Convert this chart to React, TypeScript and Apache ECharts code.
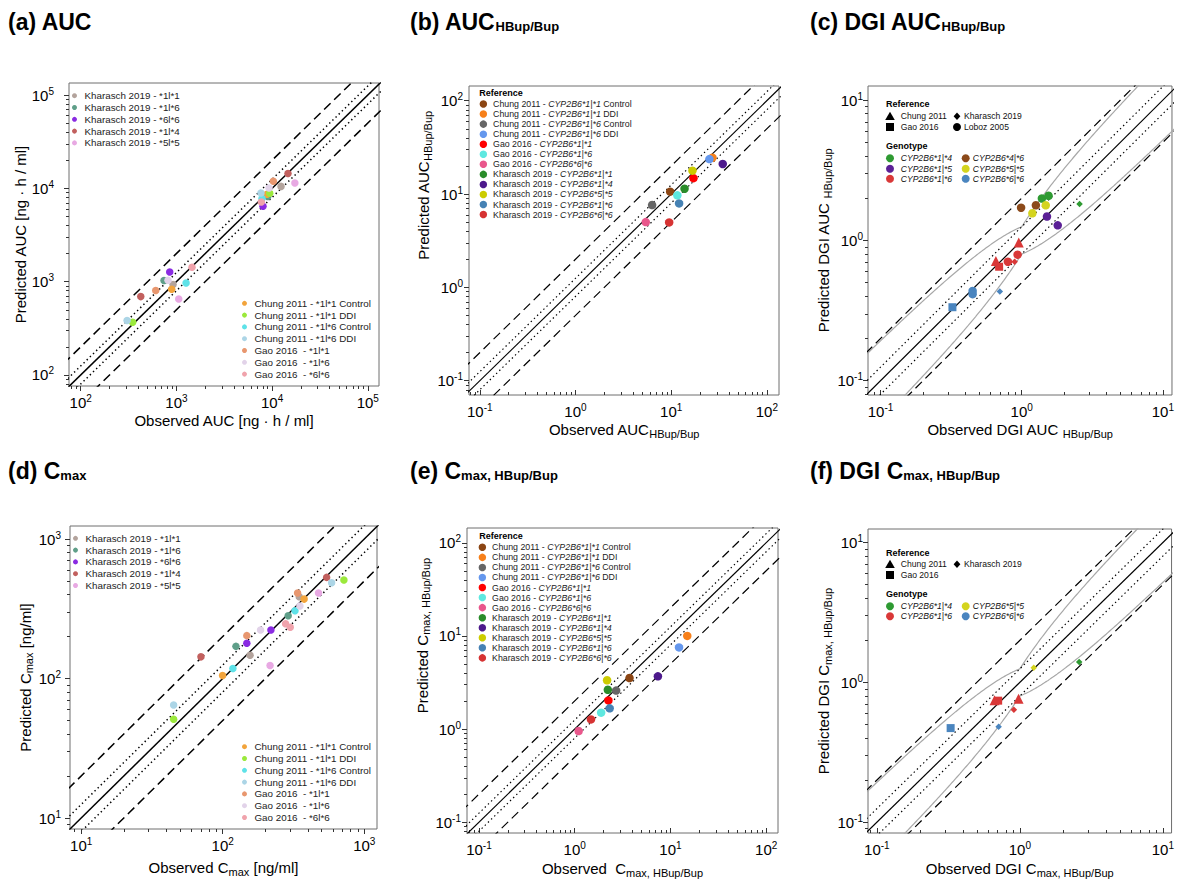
import React, { useEffect, useRef } from 'react';
import * as echarts from 'echarts';

const FONT = "'Liberation Sans', Arial, Helvetica, sans-serif";

// ---------- (a), (d): absolute PK values, one series per study arm ----------
const pkNames = [
  'Kharasch 2019 - *1l*1',
  'Kharasch 2019 - *1l*6',
  'Kharasch 2019 - *6l*6',
  'Kharasch 2019 - *1l*4',
  'Kharasch 2019 - *5l*5',
  'Chung 2011 - *1l*1 Control',
  'Chung 2011 - *1l*1 DDI',
  'Chung 2011 - *1l*6 Control',
  'Chung 2011 - *1l*6 DDI',
  'Gao 2016  - *1l*1',
  'Gao 2016  - *1l*6',
  'Gao 2016  - *6l*6',
];
const pkColors = ['#b3a39c', '#5f9f89', '#8a2be2', '#c2605e', '#e8a9e3', '#f2a43c', '#9be93c', '#5ee2e8', '#acd5e6', '#e8976f', '#e2d3e9', '#f0a3ac'];
const aucObserved = [[922, 12400], [742, 9000], [851, 8030], [424, 14660], [1057, 17300], [893, 8850], [349, 9440], [1262, 7840], [305, 7650], [608, 10300], [817, 9290], [1456, 7720]];
const aucPredicted = [[931, 10500], [1028, 8170], [1270, 6430], [692, 14400], [653, 11400], [830, 8650], [367, 8850], [968, 7780], [383, 8930], [803, 11900], [1035, 10100], [1427, 7150]];
const cmaxObserved = [[156, 347], [124, 290], [148, 219], [70.2, 542], [216, 475], [99.8, 376], [45, 718], [118, 324], [45, 588], [148, 338], [185, 351], [278, 300]];
const cmaxPredicted = [[147, 386], [170, 282], [179, 223], [143, 531], [124, 410], [105, 371], [51, 508], [118, 306], [64.6, 486], [203, 410], [223, 331], [247, 233]];

// ---------- (b), (e): HBup/Bup ratios ----------
const ratioRefs = ['Chung 2011', 'Chung 2011', 'Chung 2011', 'Chung 2011', 'Gao 2016', 'Gao 2016', 'Gao 2016', 'Kharasch 2019', 'Kharasch 2019', 'Kharasch 2019', 'Kharasch 2019', 'Kharasch 2019'];
const ratioGenotypes = ['CYP2B6*1|*1', 'CYP2B6*1|*1', 'CYP2B6*1|*6', 'CYP2B6*1|*6', 'CYP2B6*1|*1', 'CYP2B6*1|*6', 'CYP2B6*6|*6', 'CYP2B6*1|*1', 'CYP2B6*1|*4', 'CYP2B6*5|*5', 'CYP2B6*1|*6', 'CYP2B6*6|*6'];
const ratioSuffix = [' Control', ' DDI', ' Control', ' DDI', '', '', '', '', '', '', '', ''];
const ratioColors = ['#8b4513', '#f7801a', '#666666', '#6497ed', '#ff0000', '#5ee8e0', '#e9578c', '#2a8c2a', '#4d1a8c', '#cccc00', '#4682b4', '#d63333'];
const aucRatioObs = [9.76, 27.0, 6.32, 25.1, 17.1, 11.6, 5.43, 13.8, 34.6, 16.7, 12.1, 9.53];
const aucRatioPred = [10.6, 24.5, 7.63, 23.7, 14.8, 9.68, 5.01, 11.4, 21.0, 17.8, 7.94, 4.97];
const cmaxRatioObs = [3.74, 15.0, 2.71, 12.3, 2.25, 1.89, 1.10, 2.22, 7.40, 2.18, 2.32, 1.48];
const cmaxRatioPred = [3.53, 10.0, 2.59, 7.53, 2.03, 1.50, 0.953, 2.64, 3.68, 3.34, 1.67, 1.27];

// ---------- (c), (f): DGI ratios ----------
const dgiRefs = ['Chung 2011', 'Gao 2016', 'Kharasch 2019', 'Loboz 2005'];
const dgiRefSymbols = ['triangle', 'rect', 'diamond', 'circle'];
const dgiRefSizes = [10, 8, 6.5, 8.5];
const dgiGenotypes = ['CYP2B6*1|*4', 'CYP2B6*1|*5', 'CYP2B6*1|*6', 'CYP2B6*4|*6', 'CYP2B6*5|*5', 'CYP2B6*6|*6'];
const dgiGenoColors = ['#2e9a32', '#5b2096', '#d93838', '#8c4a1a', '#d4d41e', '#4a85bf'];

const dgiAucRef = [3, 3, 3, 3, 3, 3, 3, 3, 3, 3, 3, 3, 0, 0, 1, 1, 2, 2, 2];
const dgiAucGeno = [0, 0, 3, 3, 4, 4, 1, 1, 2, 2, 5, 5, 2, 2, 2, 5, 0, 2, 5];
const dgiAucObs = [1.39, 1.55, 0.99, 1.26, 1.48, 1.19, 1.51, 1.80, 0.798, 0.935, 0.449, 0.449, 0.953, 0.656, 0.692, 0.323, 2.57, 0.891, 0.700];
const dgiAucPred = [1.99, 2.08, 1.71, 1.78, 1.78, 1.56, 1.48, 1.28, 0.705, 0.791, 0.436, 0.414, 0.968, 0.713, 0.649, 0.334, 1.82, 0.703, 0.433];

const dgiCmaxRef = [0, 0, 1, 1, 2, 2, 2, 2];
const dgiCmaxGeno = [2, 2, 2, 5, 4, 0, 2, 5];
const dgiCmaxObs = [0.665, 0.979, 0.705, 0.328, 1.25, 2.60, 0.908, 0.710];
const dgiCmaxPred = [0.744, 0.764, 0.740, 0.471, 1.27, 1.40, 0.637, 0.481];

// ---------- axes ----------
const decadesA = [100, 1000, 10000, 100000];
const decadesRatio = [0.1, 1, 10, 100];
const decadesDgi = [0.1, 1, 10];
const decadesD = [10, 100, 1000];

const GUEST_DELTA = 1.25;

const panels = [
  { grid: { left: 69, top: 83, width: 310, height: 303 }, x: [75.4, 131000], y: [76.2, 134600], majors: decadesA, xInside: false, xName: 'Observed AUC [ng · h / ml]', yName: 'Predicted AUC [ng · h / ml]', xGap: 27, yGap: 29, yMargin: 15, xMargin: 7, yShift: 0 },
  { grid: { left: 469, top: 86, width: 310, height: 309 }, x: [0.0771, 134], y: [0.0703, 143.8], majors: decadesRatio, xInside: true, xName: 'Observed AUC{s|HBup/Bup}', yName: 'Predicted AUC{s|HBup/Bup}', xGap: 25, yGap: 36, yMargin: 6, xMargin: 7, yShift: 55 },
  { grid: { left: 868, top: 86, width: 308, height: 309 }, x: [0.0815, 11.6], y: [0.0791, 12.6], majors: decadesDgi, xInside: true, xName: 'Observed DGI AUC {s|HBup/Bup}', yName: 'Predicted DGI AUC {s|HBup/Bup}', xGap: 25, yGap: 35, yMargin: 5, xMargin: 7, yShift: 0 },
  { grid: { left: 70, top: 526, width: 307, height: 303 }, x: [8.34, 1230], y: [8.34, 1240], majors: decadesD, xInside: false, xName: 'Observed C{s|max} [ng/ml]', yName: 'Predicted C{s|max} [ng/ml]', xGap: 29, yGap: 30, yMargin: 9, xMargin: 7, yShift: 0 },
  { grid: { left: 467, top: 528, width: 311, height: 311 }, x: [0.075, 133], y: [0.0766, 144], majors: decadesRatio, xInside: true, xName: 'Observed  C{s|max, HBup/Bup}', yName: 'Predicted C{s|max, HBup/Bup}', xGap: 26, yGap: 35, yMargin: 6, xMargin: 7, yShift: 45 },
  { grid: { left: 868, top: 529, width: 308, height: 310 }, x: [0.0867, 11.5], y: [0.0837, 12.5], majors: decadesDgi, xInside: true, xName: 'Observed DGI C{s|max, HBup/Bup}', yName: 'Predicted DGI C{s|max, HBup/Bup}', xGap: 26, yGap: 35, yMargin: 5, xMargin: 7, yShift: 0 },
];

function minorTicks(lo: number, hi: number) {
  const out: number[] = [];
  for (let e = Math.floor(Math.log10(lo)); e <= Math.ceil(Math.log10(hi)); e++) {
    for (let m = 2; m <= 9; m++) {
      const v = Number((m * Math.pow(10, e)).toPrecision(6));
      if (v >= lo && v <= hi) out.push(v);
    }
  }
  return out;
}

const labelRich = { e: { fontSize: 10, fontFamily: FONT, color: '#000', padding: [0, 0, 8, 0] } };
const nameRich = { s: { fontSize: 11, fontFamily: FONT, color: '#000', padding: [8, 0, 0, 0] } };

function axisPair(i: number, dim: 'x' | 'y') {
  const p = panels[i];
  const range = dim === 'x' ? p.x : p.y;
  const inside = dim === 'x' ? p.xInside : false;
  const base: any = {
    type: 'log', logBase: 10, gridIndex: i, min: range[0], max: range[1],
    position: dim === 'x' ? 'bottom' : 'left',
    axisLine: { show: false }, splitLine: { show: false },
  };
  const shift = dim === 'y' ? p.yShift : 0;
  const main = {
    ...base,
    axisTick: { show: true, inside, length: 5, customValues: p.majors, lineStyle: { color: '#333', width: 1 } },
    axisLabel: {
      customValues: p.majors,
      formatter: (v: number) => `10{e|${Math.round(Math.log10(v))}}`,
      margin: dim === 'x' ? p.xMargin : p.yMargin,
      fontSize: 15, fontFamily: FONT, color: '#000', rich: labelRich,
    },
    name: dim === 'x' ? p.xName : p.yName,
    nameLocation: 'middle',
    nameGap: dim === 'x' ? p.xGap : p.yGap,
    nameTextStyle: { fontSize: 15, fontFamily: FONT, color: '#000', rich: nameRich, padding: [0, 0, 0, shift * 2] },
  };
  const minor = {
    ...base,
    axisTick: { show: true, inside, length: 3, customValues: minorTicks(range[0], range[1]), lineStyle: { color: '#333', width: 1 } },
    axisLabel: { show: false },
  };
  return [main, minor];
}

function refLine(i: number, factor: number, type: any, width: number, color = '#000') {
  const p = panels[i];
  const lo = p.x[0] / 10;
  const hi = p.x[1] * 10;
  return {
    type: 'line', xAxisIndex: 2 * i, yAxisIndex: 2 * i,
    data: [[lo, lo * factor], [hi, hi * factor]],
    symbol: 'none', silent: true, z: 1, clip: true,
    lineStyle: { color, width, type },
  };
}

function guestLimit(r: number) {
  const rr = r >= 1 ? r : 1 / r;
  return (GUEST_DELTA + 2 * (rr - 1)) / rr;
}

function guestCurves(i: number) {
  const p = panels[i];
  const pts: number[] = [];
  const l0 = Math.log10(p.x[0]) - 0.5;
  const l1 = Math.log10(p.x[1]) + 0.5;
  for (let k = 0; k <= 300; k++) pts.push(Math.pow(10, l0 + ((l1 - l0) * k) / 300));
  const mk = (upper: boolean) => ({
    type: 'line', xAxisIndex: 2 * i, yAxisIndex: 2 * i,
    data: pts.map((r) => [r, upper ? r * guestLimit(r) : r / guestLimit(r)]),
    symbol: 'none', silent: true, z: 1, clip: true,
    lineStyle: { color: '#a8a8a8', width: 1.2, type: 'solid' },
  });
  return [mk(true), mk(false)];
}

function refLines(i: number, w: number) {
  return [
    refLine(i, 1, 'solid', w),
    refLine(i, 1.25, [1.4, 3], w),
    refLine(i, 1 / 1.25, [1.4, 3], w),
    refLine(i, 2, [9, 5], w),
    refLine(i, 1 / 2, [9, 5], w),
  ];
}

function pkSeries(i: number, obs: number[][], pred: number[][]) {
  return pkNames.map((name, k) => ({
    type: 'scatter', name, xAxisIndex: 2 * i, yAxisIndex: 2 * i,
    data: obs[k].map((o, j) => [o, pred[k][j]]),
    symbol: 'circle', symbolSize: 7.5, z: 3,
    itemStyle: { color: pkColors[k], opacity: 1 },
  }));
}

const ratioNames = ratioRefs.map((r, k) => `${r} - ${ratioGenotypes[k]}${ratioSuffix[k]}`);

function ratioSeries(i: number, obs: number[], pred: number[]) {
  return ratioNames.map((name, k) => ({
    type: 'scatter', name, xAxisIndex: 2 * i, yAxisIndex: 2 * i,
    data: [[obs[k], pred[k]]],
    symbol: 'circle', symbolSize: 8.5, z: 3,
    itemStyle: { color: ratioColors[k], opacity: 1 },
  }));
}

function dgiSeries(i: number, refIdx: number[], genoIdx: number[], obs: number[], pred: number[]) {
  return dgiRefs.map((ref, r) => ({
    type: 'scatter', name: `${ref} (DGI ${i})`, xAxisIndex: 2 * i, yAxisIndex: 2 * i,
    symbol: dgiRefSymbols[r], symbolSize: dgiRefSizes[r], z: 3,
    data: obs
      .map((o, k) => ({ k, o }))
      .filter(({ k }) => refIdx[k] === r)
      .map(({ k, o }) => ({ value: [o, pred[k]], itemStyle: { color: dgiGenoColors[genoIdx[k]], opacity: 1 } })),
  })).filter((s) => s.data.length > 0);
}

function iconShape(sym: string, cx: number, cy: number, color: string) {
  if (sym === 'triangle') return { type: 'polygon', shape: { points: [[cx, cy - 4.6], [cx + 4.8, cy + 3.8], [cx - 4.8, cy + 3.8]] }, style: { fill: color } };
  if (sym === 'rect') return { type: 'rect', shape: { x: cx - 4, y: cy - 4, width: 8, height: 8 }, style: { fill: color } };
  if (sym === 'diamond') return { type: 'polygon', shape: { points: [[cx, cy - 3.8], [cx + 3.4, cy], [cx, cy + 3.8], [cx - 3.4, cy]] }, style: { fill: color } };
  return { type: 'circle', shape: { cx, cy, r: 4 }, style: { fill: color } };
}

function gText(text: string, x: number, y: number, opts: any = {}) {
  return {
    type: 'text', x, y, silent: true,
    style: { text, fontSize: 8.6, fontFamily: FONT, fill: '#111', verticalAlign: 'middle', align: 'left', ...opts },
  };
}

function dgiLegend(refTitleY: number, refRows: number[], refEntries: number[][], genoTitleY: number, genoRows: number[], genoCols: number[][]) {
  const els: any[] = [];
  els.push(gText('Reference', 886, refTitleY, { fontSize: 9, fontWeight: 'bold', fill: '#000' }));
  const refIconX = [890, 957];
  const refTextX = [900.7, 964];
  refEntries.forEach(([r, col, row]) => {
    els.push(iconShape(dgiRefSymbols[r], refIconX[col], refRows[row], '#000'));
    els.push(gText(dgiRefs[r], refTextX[col], refRows[row]));
  });
  els.push(gText('Genotype', 886, genoTitleY, { fontSize: 9, fontWeight: 'bold', fill: '#000' }));
  const gIconX = [890, 965.7];
  const gTextX = [900.7, 972.7];
  genoCols.forEach((list, col) => {
    list.forEach((g, row) => {
      els.push(iconShape('circle', gIconX[col], genoRows[row], dgiGenoColors[g]));
      els.push(gText(dgiGenotypes[g], gTextX[col], genoRows[row], { fontStyle: 'italic' }));
    });
  });
  return els;
}

function buildOption() {
  const xAxis: any[] = [];
  const yAxis: any[] = [];
  panels.forEach((_, i) => {
    xAxis.push(...axisPair(i, 'x'));
    yAxis.push(...axisPair(i, 'y'));
  });

  const series: any[] = [
    ...refLines(0, 1.5), ...pkSeries(0, aucObserved, aucPredicted),
    ...refLines(1, 1.2), ...ratioSeries(1, aucRatioObs, aucRatioPred),
    ...guestCurves(2), ...refLines(2, 1.2), ...dgiSeries(2, dgiAucRef, dgiAucGeno, dgiAucObs, dgiAucPred),
    ...refLines(3, 1.5), ...pkSeries(3, cmaxObserved, cmaxPredicted),
    ...refLines(4, 1.2), ...ratioSeries(4, cmaxRatioObs, cmaxRatioPred),
    ...guestCurves(5), ...refLines(5, 1.2), ...dgiSeries(5, dgiCmaxRef, dgiCmaxGeno, dgiCmaxObs, dgiCmaxPred),
  ];

  const pkLegend = (data: string[], left: number, top: number) => ({
    data, left, top, orient: 'vertical', padding: 0, itemGap: 0,
    itemWidth: 10, itemHeight: 5, icon: 'circle', selectedMode: false,
    textStyle: { fontSize: 9.8, fontFamily: FONT, color: '#222', lineHeight: 11.8 },
  });
  const ratioRich = {
    n: { fontSize: 8.8, fontFamily: FONT, color: '#222', lineHeight: 10.05 },
    i: { fontSize: 8.8, fontFamily: FONT, color: '#222', fontStyle: 'italic', lineHeight: 10.05 },
  };
  const ratioLegend = (left: number, top: number) => ({
    data: ratioNames, left, top, orient: 'vertical', padding: 0, itemGap: 0,
    itemWidth: 9.4, itemHeight: 7.5, icon: 'circle', selectedMode: false,
    formatter: (name: string) => {
      const k = ratioNames.indexOf(name);
      return `{n|${ratioRefs[k]} - }{i|${ratioGenotypes[k]}}` + (ratioSuffix[k] ? `{n|${ratioSuffix[k]}}` : '');
    },
    textStyle: { fontSize: 8.8, fontFamily: FONT, color: '#222', lineHeight: 10.05, rich: ratioRich },
  });

  const titleStyle = {
    fontSize: 23, fontWeight: 'bold', fontFamily: FONT, color: '#000',
    rich: { s: { fontSize: 13, fontWeight: 'bold', fontFamily: FONT, color: '#000', padding: [10, 0, 0, 0] } },
  };
  const title = [
    { text: '(a) AUC', left: 8, top: 10 },
    { text: '(b) AUC{s|HBup/Bup}', left: 410, top: 10 },
    { text: '(c) DGI AUC{s|HBup/Bup}', left: 810, top: 10 },
    { text: '(d) C{s|max}', left: 8, top: 459 },
    { text: '(e) C{s|max, HBup/Bup}', left: 410, top: 459 },
    { text: '(f) DGI C{s|max, HBup/Bup}', left: 810, top: 459 },
  ].map((t) => ({ ...t, padding: 0, textStyle: titleStyle }));

  const graphic = [
    gText('Reference', 479.3, 92.7, { fontSize: 9, fontWeight: 'bold', fill: '#000' }),
    gText('Reference', 479.3, 535.7, { fontSize: 9, fontWeight: 'bold', fill: '#000' }),
    ...dgiLegend(104.3, [116.3, 127], [[0, 0, 0], [2, 1, 0], [1, 0, 1], [3, 1, 1]], 145.7, [158.3, 168.7, 178.7], [[0, 1, 2], [3, 4, 5]]),
    ...dgiLegend(552.7, [564.3, 575], [[0, 0, 0], [2, 1, 0], [1, 0, 1]], 594, [606.3, 616.3], [[0, 2], [4, 5]]),
  ];

  return {
    animation: false,
    backgroundColor: '#fff',
    textStyle: { fontFamily: FONT },
    title,
    grid: panels.map((p) => ({ ...p.grid, show: true, borderColor: '#6e6e6e', borderWidth: 1, backgroundColor: 'transparent', containLabel: false })),
    xAxis,
    yAxis,
    legend: [
      pkLegend(pkNames.slice(0, 5), 72, 89.8),
      pkLegend(pkNames.slice(5), 242, 297.4),
      pkLegend(pkNames.slice(0, 5), 73, 532.4),
      pkLegend(pkNames.slice(5), 242, 740.8),
      ratioLegend(479.6, 99),
      ratioLegend(478.6, 542.3),
    ],
    graphic,
    series,
  };
}

export default function App() {
  const ref = useRef<HTMLDivElement>(null);
  useEffect(() => {
    if (!ref.current) return;
    const chart = echarts.init(ref.current, undefined, { renderer: 'svg' });
    chart.setOption(buildOption() as any);
    return () => chart.dispose();
  }, []);
  return <div ref={ref} style={{ position: 'absolute', left: 0, top: 0, width: 1177, height: 879 }} />;
}
